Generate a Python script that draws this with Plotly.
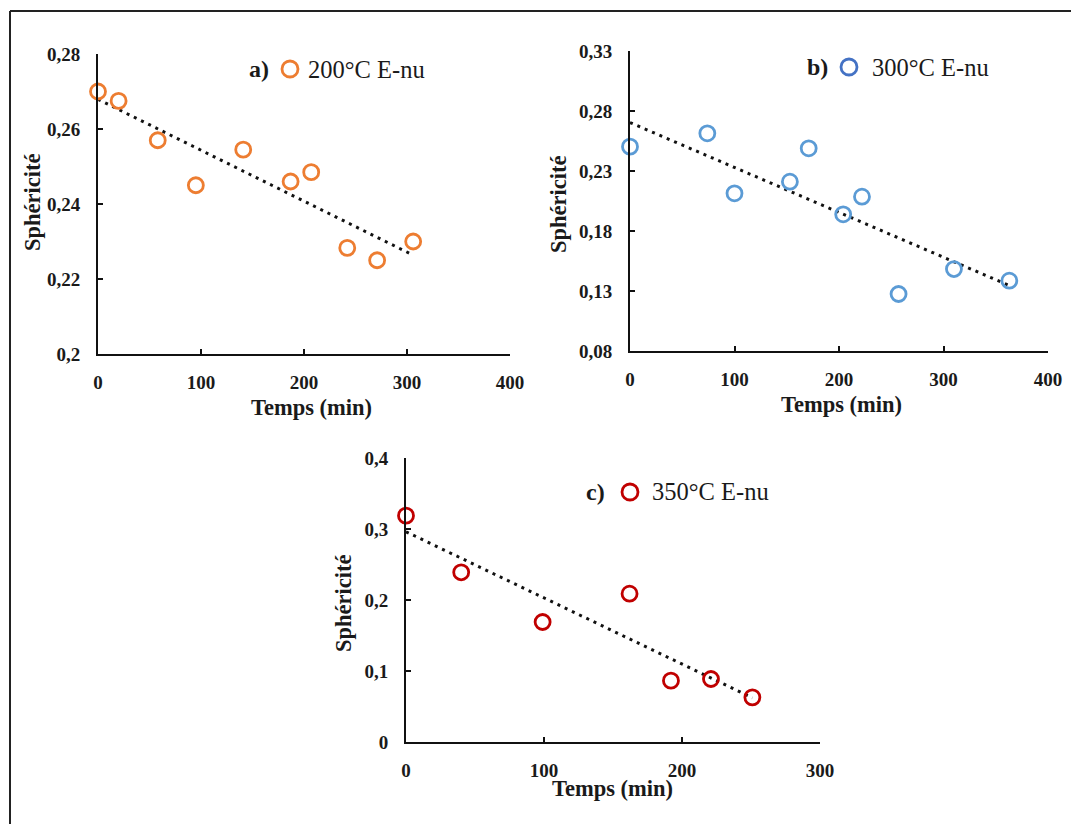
import numpy as np
import plotly.graph_objects as go

# ---------------- data ----------------
time_a = [0, 20, 58, 95, 141, 187, 207, 242, 271, 306]
sph_a = [0.270, 0.2675, 0.257, 0.245, 0.2545, 0.246, 0.2485, 0.2283, 0.225, 0.230]

time_b = [0, 74, 100, 153, 171, 204, 222, 257, 310, 363]
sph_b = [0.2503, 0.2614, 0.2114, 0.2211, 0.2489, 0.1939, 0.2086, 0.1275, 0.1483, 0.1386]

time_c = [0, 40, 99, 162, 192, 221, 251]
sph_c = [0.3188, 0.239, 0.169, 0.2089, 0.0864, 0.0887, 0.0629]

labels = ["200°C E-nu", "300°C E-nu", "350°C E-nu"]
letters = ["a)", "b)", "c)"]

yticks_a = [0.2, 0.22, 0.24, 0.26, 0.28]
yticks_b = [0.08, 0.13, 0.18, 0.23, 0.28, 0.33]
yticks_c = [0, 0.1, 0.2, 0.3, 0.4]
xticks_ab = [0, 100, 200, 300, 400]
xticks_c = [0, 100, 200, 300]

W, H = 1071, 824
FONT = "Liberation Serif, Times New Roman, serif"
TXT = "#1a1a1a"

colors = ["#ED7D31", "#5B9BD5", "#C00000"]
legend_colors = ["#ED7D31", "#4472C4", "#C00000"]


def fmt(v):
    s = f"{v:g}"
    return s.replace(".", ",")


def px_x(p):
    return p / W


def px_y(p):
    return 1 - p / H


fig = go.Figure()

panels = [
    dict(x=time_a, y=sph_a, xa="x", ya="y"),
    dict(x=time_b, y=sph_b, xa="x2", ya="y2"),
    dict(x=time_c, y=sph_c, xa="x3", ya="y3"),
]

for i, p in enumerate(panels):
    xs = np.array(p["x"], dtype=float)
    ys = np.array(p["y"], dtype=float)
    slope, inter = np.polyfit(xs, ys, 1)
    tx = [xs.min(), xs.max()]
    ty = [inter + slope * v for v in tx]
    fig.add_trace(go.Scatter(
        x=tx, y=ty, mode="lines", xaxis=p["xa"], yaxis=p["ya"],
        line=dict(color="#111111", width=3, dash="3px,5px"),
        showlegend=False, cliponaxis=False, hoverinfo="skip"))
    fig.add_trace(go.Scatter(
        x=p["x"], y=p["y"], mode="markers", xaxis=p["xa"], yaxis=p["ya"],
        marker=dict(symbol="circle-open", size=15, color=colors[i],
                    line=dict(width=2.8, color=colors[i])),
        showlegend=False, cliponaxis=False, name=labels[i]))

axis_common = dict(
    showgrid=False, zeroline=False, showline=True, linecolor="#111111",
    linewidth=2, ticks="inside", ticklen=5, tickwidth=2, tickcolor="#111111",
    tickfont=dict(family=FONT, size=19, color=TXT, weight="bold"), fixedrange=True,
    automargin=False,
)

# pixel boxes: (left, right, top, bottom)
boxes = [(98, 510, 54, 354), (630, 1048, 51, 351), (406, 820, 458, 742)]
xranges = [[0, 400], [0, 400], [0, 300]]
yranges = [[0.2, 0.28], [0.08, 0.33], [0, 0.4]]
xtick_sets = [xticks_ab, xticks_ab, xticks_c]
ytick_sets = [yticks_a, yticks_b, yticks_c]
names = [("xaxis", "yaxis"), ("xaxis2", "yaxis2"), ("xaxis3", "yaxis3")]
anchors = [("y", "x"), ("y2", "x2"), ("y3", "x3")]

lay = {}
for i in range(3):
    l, r, t, b = boxes[i]
    xn, yn = names[i]
    lay[xn] = dict(axis_common, domain=[px_x(l), px_x(r)], range=xranges[i],
                   tickvals=xtick_sets[i], ticktext=[fmt(v) for v in xtick_sets[i]],
                   anchor=anchors[i][0], ticklabelstandoff=10)
    lay[yn] = dict(axis_common, domain=[px_y(b), px_y(t)], range=yranges[i],
                   tickvals=ytick_sets[i], ticktext=[fmt(v) for v in ytick_sets[i]],
                   anchor=anchors[i][1], ticklabelstandoff=12)
fig.update_layout(**lay)

annotations = []
shapes = []

# axis titles (pixel centres)
xt_pos = [(311, 407), (841, 405), (612, 788)]
yt_pos = [(33, 203), (558, 205), (343, 603)]
for i in range(3):
    annotations.append(dict(
        text="<b>Temps (min)</b>", x=px_x(xt_pos[i][0]), y=px_y(xt_pos[i][1]),
        xref="paper", yref="paper", showarrow=False, xanchor="center", yanchor="middle",
        font=dict(family=FONT, size=22.5, color=TXT)))
    annotations.append(dict(
        text="<b>Sphéricité</b>", x=px_x(yt_pos[i][0]), y=px_y(yt_pos[i][1]),
        xref="paper", yref="paper", showarrow=False, xanchor="center", yanchor="middle",
        textangle=-90, font=dict(family=FONT, size=22.5, color=TXT)))

# in-plot legends: letter, marker, label
leg = [  # (letter right x, marker centre x, text left x, centre y)
    (271, 290, 306, 69),
    (830, 849, 870, 67),
    (607, 630, 650, 492),
]
for i in range(3):
    lx, mx, tx, cy = leg[i]
    annotations.append(dict(
        text=f"<b>{letters[i]}</b>", x=px_x(lx), y=px_y(cy), xref="paper", yref="paper",
        showarrow=False, xanchor="right", yanchor="middle",
        font=dict(family=FONT, size=24, color=TXT)))
    annotations.append(dict(
        text=labels[i], x=px_x(tx), y=px_y(cy), xref="paper", yref="paper",
        showarrow=False, xanchor="left", yanchor="middle",
        font=dict(family=FONT, size=24.5, color=TXT)))
    rad = 8
    shapes.append(dict(
        type="circle", xref="paper", yref="paper",
        x0=px_x(mx - rad), x1=px_x(mx + rad), y0=px_y(cy + rad), y1=px_y(cy - rad),
        line=dict(color=legend_colors[i], width=2.8), fillcolor="rgba(0,0,0,0)"))

# outer frame (left and top edges visible)
shapes.append(dict(type="line", xref="paper", yref="paper",
                   x0=px_x(10), x1=px_x(10), y0=px_y(11), y1=0,
                   line=dict(color="#222222", width=2)))
shapes.append(dict(type="line", xref="paper", yref="paper",
                   x0=px_x(10), x1=1, y0=px_y(11), y1=px_y(11),
                   line=dict(color="#222222", width=2)))

fig.update_layout(
    template="none",
    width=W, height=H, margin=dict(l=0, r=0, t=0, b=0, pad=0, autoexpand=False),
    paper_bgcolor="white", plot_bgcolor="white",
    annotations=annotations, shapes=shapes, showlegend=False,
    font=dict(family=FONT, color=TXT),
)

fig.write_html(
    "out.html",
    config={"displayModeBar": False},
    post_script="document.body.style.margin='0';document.body.style.overflow='hidden';",
)
